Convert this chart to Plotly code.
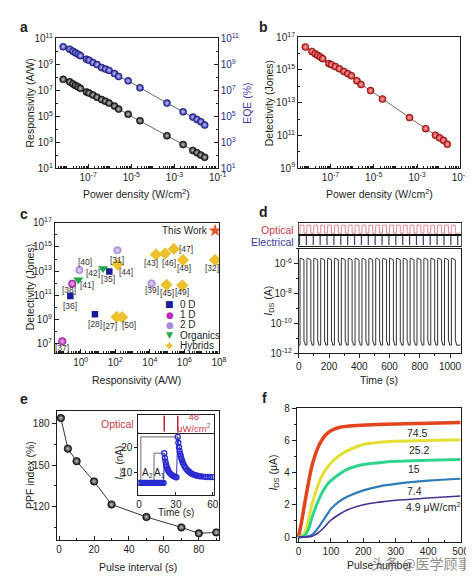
import math
import plotly.graph_objects as go

W, H = 474, 577
FONT = "Liberation Sans, Arial, Helvetica, sans-serif"
INK = "#1e1e1e"
TICK_SIZE = 10
TITLE_SIZE = 10.5

# ======================= DATA =======================
# panels a & b (same power densities)
power_density = [6.9e-9, 1.38e-8, 1.95e-8, 2.57e-8, 3.39e-8, 4.37e-8, 8.3e-8, 1.10e-7,
                 1.66e-7, 2.57e-7, 4.17e-7, 6.3e-7, 9.3e-7, 1.66e-6, 2.57e-6, 7.1e-6,
                 2.51e-5, 4.47e-4, 2.51e-3, 7.1e-3, 1.1e-2, 1.66e-2, 2.51e-2]
responsivity = [7.2e7, 4.6e7, 3.2e7, 2.4e7, 1.9e7, 1.45e7, 7.6e6, 6.3e6, 4.5e6, 3.0e6,
                2.0e6, 1.5e6, 1.07e6, 6.3e5, 3.7e5, 1.5e5, 4.7e4, 3.3e3, 690, 245, 162, 107, 72]
eqe_percent = [2.3e10, 1.5e10, 1.05e10, 7.9e9, 6.2e9, 4.7e9, 2.5e9, 2.1e9, 1.4e9, 9.8e8,
               5.8e8, 4.4e8, 3.5e8, 2.0e8, 1.2e8, 5.5e7, 1.6e7, 1.07e6, 2.3e5, 8.9e4,
               5.9e4, 3.9e4, 2.2e4]
detectivity = [2.5e16, 1.35e16, 9.8e15, 7.8e15, 6.2e15, 4.9e15, 2.45e15, 2.1e15, 1.6e15,
               1.17e15, 8.1e14, 5.9e14, 4.4e14, 2.2e14, 1.3e14, 5.5e13, 1.66e13, 1.23e12,
               2.6e11, 1.02e11, 7.1e10, 5.0e10, 2.9e10]

# panel c (responsivity A/W, detectivity Jones)
c_this_R, c_this_D = 6.0e7, 2.3e16
c_0d_refs = ["[36]", "[28]", "[35]"]
c_0d_R = [0.25, 6.6, 45.0]
c_0d_D = [8.3e10, 2.6e9, 9.3e12]
c_1d_refs = ["[38]", "[37]"]
c_1d_R = [0.32, 0.085]
c_1d_D = [8.9e11, 1.45e7]
c_2d_refs = ["[40]", "[31]", "[39]"]
c_2d_R = [0.83, 132.0, 1.26e4]
c_2d_D = [1.2e13, 5.4e14, 9.3e11]
c_org_refs = ["[41]", "[42]"]
c_org_R = [0.72, 19.5]
c_org_D = [1.86e12, 1.66e13]
c_hyb_refs = ["[44]", "[27]", "[50]", "[43]", "[46]", "[47]", "[48]", "[32]", "[45]", "[49]"]
c_hyb_R = [138.0, 120.0, 251.0, 2.24e4, 7.6e4, 2.45e5, 8.3e5, 6.0e7, 9.3e4, 7.6e5]
c_hyb_D = [3.5e13, 1.55e9, 1.45e9, 2.4e14, 2.9e14, 6.9e14, 8.3e13, 8.3e13, 7.2e11, 6.5e11]

# panel d (time in s, current in A)
d_light_on = [8, 53.5, 99, 144.5, 190, 235.5, 281, 326.5, 372, 417.5, 463, 508.5, 554,
              599.5, 645, 690.5, 736, 781.5, 827, 872.5, 918, 963.5, 1009]
d_light_off = [34, 79.5, 125, 170.5, 216, 261.5, 307, 352.5, 398, 443.5, 489, 534.5, 580,
               625.5, 671, 716.5, 762, 807.5, 853, 898.5, 944, 989.5, 1035]
d_electrical = [4.5, 50, 95.5, 141, 186.5, 232, 277.5, 323, 368.5, 414, 459.5, 505, 550.5,
                596, 641.5, 687, 732.5, 778, 823.5, 869, 914.5, 960, 1005.5, 1051]
d_high_start, d_high_end = 2.4e-6, 1.9e-6
d_low_after, d_low = 6e-12, 3.5e-12
d_t_end = 1070

# panel e
e_interval = [1, 5, 10, 20, 30, 50, 70, 80, 90]
e_ppf = [183.8, 161.8, 152.8, 138.2, 121.6, 112.6, 105.1, 100.8, 101.5]
# panel e inset
ins_t = [0, 1, 2, 3, 4, 5, 6, 7, 8, 9, 10, 11, 12, 13, 14, 15, 16, 17, 18, 19, 20,
         20.5, 21, 21.5, 22, 22.5, 23, 23.5, 24, 25, 26, 27, 28, 29, 30, 30.5,
         31.5, 32, 32.5, 33, 33.5, 34, 34.5, 35, 35.5, 36, 37, 38, 39, 40, 41, 42, 43,
         44, 45, 46, 47, 48, 49, 50, 52, 54, 56, 58, 60]
ins_I = [6.0, 6.0, 6.0, 6.0, 6.0, 6.0, 6.0, 6.0, 6.0, 6.0, 6.0, 6.0, 6.0, 6.0, 6.0, 6.0,
         6.0, 6.0, 6.0, 6.0, 6.0,
         17.7, 15.8, 14.4, 13.3, 12.4, 11.7, 11.1, 10.6, 9.9, 9.4, 9.0, 8.7, 8.5, 8.3, 8.2,
         24.1, 21.8, 20.0, 18.6, 17.4, 16.4, 15.5, 14.8, 14.1, 13.5, 12.6, 11.8, 11.2,
         10.7, 10.3, 9.9, 9.6, 9.4, 9.2, 9.0, 8.9, 8.8, 8.7, 8.6, 8.5, 8.4, 8.35, 8.3, 8.3]
ins_pulses = [20.5, 31.5]
ins_baseline = 6.0
ins_A2_t, ins_A1_t = 1.5, 12.2

# panel f
f_pulse = [0, 10, 20, 30, 40, 50, 60, 70, 80, 90, 100, 125, 150, 200, 250, 300, 400, 500]
f_intensity = ["74.5", "25.2", "15", "7.4", "4.9 μW/cm<sup>2</sup>"]
f_I_745 = [0, 1.0, 2.2, 3.3, 4.3, 5.0, 5.55, 5.95, 6.25, 6.45, 6.6, 6.8, 6.88, 6.95, 6.99, 7.02, 7.07, 7.12]
f_I_252 = [0, 0.05, 0.3, 1.0, 1.9, 2.6, 3.2, 3.7, 4.05, 4.35, 4.6, 5.05, 5.35, 5.75, 5.88, 5.95, 6.0, 6.05]
f_I_15 = [0, 0.02, 0.1, 0.45, 1.1, 1.7, 2.2, 2.65, 3.0, 3.3, 3.5, 3.9, 4.2, 4.5, 4.62, 4.7, 4.77, 4.82]
f_I_74 = [0, 0, 0.01, 0.04, 0.12, 0.3, 0.55, 0.85, 1.15, 1.45, 1.75, 2.2, 2.5, 2.9, 3.15, 3.3, 3.5, 3.62]
f_I_49 = [0, 0, 0, 0.01, 0.04, 0.12, 0.25, 0.42, 0.62, 0.85, 1.05, 1.4, 1.68, 2.0, 2.17, 2.28, 2.42, 2.55]

# ======================= HELPERS =======================
def xdom(x0, x1):
    return [x0 / W, x1 / W]


def ydom(top, bottom):
    return [1 - bottom / H, 1 - top / H]


def axis(**kw):
    d = dict(showline=True, linecolor=INK, linewidth=1, mirror=True, ticks="inside",
             ticklen=4, tickwidth=1, tickcolor=INK, showgrid=False, zeroline=False,
             tickfont=dict(size=TICK_SIZE, color=INK, family=FONT))
    d.update(kw)
    return d


def log_ticks(exps):
    return dict(tickmode="array", tickvals=[10.0 ** e for e in exps],
                ticktext=["10<sup>%d</sup>" % e for e in exps])


def decade_minor(lo, hi, sub=False, ticks="inside"):
    vals = []
    for e in range(lo, hi + 1):
        if sub:
            vals += [m * 10.0 ** e for m in range(1, 10)]
        else:
            vals.append(10.0 ** e)
    return dict(tickmode="array", tickvals=vals, ticklen=2, ticks=ticks, tickcolor=INK)


anns = []


def txt(text, x, y, size=TITLE_SIZE, color=INK, angle=0, xanchor="center",
        yanchor="middle", family=FONT, opacity=1.0, align="center"):
    anns.append(dict(text=text, x=x / W, y=1 - y / H, xref="paper", yref="paper",
                     showarrow=False, textangle=angle, xanchor=xanchor, yanchor=yanchor,
                     font=dict(size=size, color=color, family=family), opacity=opacity,
                     align=align))


def ball(color, light, size=7, edge="#000000"):
    return dict(size=size, color=color, gradient=dict(type="radial", color=light),
                line=dict(width=0.6, color=edge))


fig = go.Figure()

# ======================= PANEL A =======================
fig.add_trace(go.Scatter(x=power_density, y=responsivity, mode="lines+markers",
                         line=dict(color="#666666", width=1),
                         marker=ball("#111111", "#c8c8c8"), xaxis="x", yaxis="y",
                         showlegend=False))
fig.add_trace(go.Scatter(x=power_density, y=eqe_percent, mode="lines+markers",
                         line=dict(color="#666666", width=1),
                         marker=ball("#1f1fa8", "#c8c8f4", edge="#10105a"), xaxis="x", yaxis="y2",
                         showlegend=False))

# ======================= PANEL B =======================
fig.add_trace(go.Scatter(x=power_density, y=detectivity, mode="lines+markers",
                         line=dict(color="#8a5a5a", width=1),
                         marker=ball("#c81818", "#f8b0b0", edge="#6a0000"), xaxis="x2", yaxis="y3",
                         showlegend=False))

# ======================= PANEL C =======================
c_groups = [
    ("0 D", c_0d_refs, c_0d_R, c_0d_D, dict(symbol="square", size=6.5, color="#1a1a9a",
                                           line=dict(width=0))),
    ("1 D", c_1d_refs, c_1d_R, c_1d_D, ball("#b82cc0", "#f0b0f0", size=7.5, edge="#7a1080")),
    ("2 D", c_2d_refs, c_2d_R, c_2d_D, ball("#a88ad8", "#e4d8f6", size=7.5, edge="#a88ad8")),
    ("Organics", c_org_refs, c_org_R, c_org_D, dict(symbol="triangle-down", size=9,
                                                   color="#22a848", line=dict(width=0))),
    ("Hybrids", c_hyb_refs, c_hyb_R, c_hyb_D, dict(symbol="diamond", size=9.5,
                                                  color="#ebc22e", line=dict(width=0))),
]
for name, refs, R, D, mk in c_groups:
    fig.add_trace(go.Scatter(x=R, y=D, mode="markers", marker=mk, name=name,
                             xaxis="x3", yaxis="y4", showlegend=False))
fig.add_trace(go.Scatter(x=[c_this_R], y=[c_this_D], mode="markers",
                         marker=dict(symbol="star", size=10, color="#e8552a"),
                         xaxis="x3", yaxis="y4", showlegend=False))

# reference-label offsets (px right, px down)
c_label_offsets = {"[36]": (0, 10), "[28]": (0, 10), "[35]": (-1, 8), "[38]": (-3, 6),
                   "[37]": (0, 7), "[40]": (6, -8), "[31]": (0, 10), "[39]": (0, 7),
                   "[41]": (9, 5), "[42]": (-10, 5), "[44]": (8, 7), "[27]": (-7, 9),
                   "[50]": (7, 8), "[43]": (-5, 9), "[46]": (4, 10), "[47]": (12, 0),
                   "[48]": (1, 8), "[32]": (-3, 8), "[45]": (0, 8), "[49]": (0, 7)}
for name, refs, R, D, mk in c_groups:
    for ref, r, d in zip(refs, R, D):
        dx, dy = c_label_offsets[ref]
        anns.append(dict(text=ref, x=math.log10(r), y=math.log10(d), xref="x3", yref="y4",
                         showarrow=False, xshift=dx, yshift=-dy,
                         font=dict(size=8.5, color="#333333", family=FONT)))
anns.append(dict(text="This Work", x=math.log10(c_this_R), y=math.log10(c_this_D),
                 xref="x3", yref="y4", showarrow=False, xanchor="right", xshift=-5,
                 font=dict(size=10, color=INK, family=FONT)))

# legend for panel c (text glyphs)
c_leg_glyph = [("■", "#1a1a9a"), ("●", "#b82cc0"), ("●", "#a88ad8"), ("▼", "#22a848"),
               ("◆", "#ebc22e")]
for i, ((g, col), (name, *_)) in enumerate(zip(c_leg_glyph, c_groups)):
    yy = 296 + i * 10.5
    txt(g, 163, yy, size=9, color=col, family="DejaVu Sans")
    txt(name, 171, yy, size=10, xanchor="left")

# ======================= PANEL D =======================
d_t, d_I = [0], [d_low]
for on, off in zip(d_light_on, d_light_off):
    d_t += [on, on, on + 2, off - 1, off, off, off + 4, off + 8]
    d_I += [d_low, d_high_start * 0.8, d_high_start, d_high_end, d_high_end * 0.8,
            d_low_after, d_low_after, d_low]
d_t.append(d_t_end)
d_I.append(d_low)
fig.add_trace(go.Scatter(x=d_t, y=d_I, mode="lines", line=dict(color="#333333", width=1),
                         xaxis="x4", yaxis="y5", showlegend=False))
opt_x, opt_y = [0], [0.15]
for on, off in zip(d_light_on, d_light_off):
    opt_x += [on, on, off, off]
    opt_y += [0.15, 0.85, 0.85, 0.15]
opt_x.append(d_t_end)
opt_y.append(0.15)
fig.add_trace(go.Scatter(x=opt_x, y=opt_y, mode="lines", line=dict(color="#e08894", width=1),
                         xaxis="x5", yaxis="y6", showlegend=False))
el_x, el_y = [], []
for te in d_electrical:
    el_x += [te, te, None]
    el_y += [0.12, 0.9, None]
fig.add_trace(go.Scatter(x=el_x, y=el_y, mode="lines", line=dict(color="#3a3a6e", width=1.2),
                         xaxis="x6", yaxis="y7", showlegend=False))

# ======================= PANEL E =======================
fig.add_trace(go.Scatter(x=e_interval, y=e_ppf, mode="lines+markers",
                         line=dict(color="#333333", width=1),
                         marker=ball("#111111", "#c8c8c8", size=7.5), xaxis="x7", yaxis="y8",
                         showlegend=False))
# inset brackets
i_pk1 = ins_I[ins_t.index(ins_pulses[0])]
i_pk2 = ins_I[ins_t.index(ins_pulses[1])]
fig.add_trace(go.Scatter(x=[ins_A2_t, ins_A2_t, ins_pulses[1]], y=[ins_baseline, i_pk2, i_pk2],
                         mode="lines", line=dict(color="#444444", width=0.8),
                         xaxis="x8", yaxis="y9", showlegend=False))
fig.add_trace(go.Scatter(x=[ins_A1_t, ins_A1_t, ins_pulses[0]], y=[ins_baseline, i_pk1, i_pk1],
                         mode="lines", line=dict(color="#444444", width=0.8),
                         xaxis="x8", yaxis="y9", showlegend=False))
fig.add_trace(go.Scatter(x=ins_t, y=ins_I, mode="lines+markers",
                         line=dict(color="#2a2ad0", width=1),
                         marker=dict(symbol="circle-open", size=5, color="#2a2ad0",
                                     line=dict(width=1.3)),
                         xaxis="x8", yaxis="y9", showlegend=False))
p_x, p_y = [], []
for tp in ins_pulses:
    p_x += [tp, tp, None]
    p_y += [0.08, 0.95, None]
fig.add_trace(go.Scatter(x=p_x, y=p_y, mode="lines", line=dict(color="#b8283a", width=1.5),
                         xaxis="x9", yaxis="y10", showlegend=False))
anns.append(dict(text="A<sub>2</sub>", x=(ins_A2_t + ins_A1_t) / 2, y=10.0, xref="x8",
                 yref="y9", showarrow=False, font=dict(size=10, color=INK, family=FONT)))
anns.append(dict(text="A<sub>1</sub>", x=(ins_A1_t + ins_pulses[0]) / 2, y=10.0, xref="x8",
                 yref="y9", showarrow=False, font=dict(size=10, color=INK, family=FONT)))

# ======================= PANEL F =======================
f_series = [f_I_745, f_I_252, f_I_15, f_I_74, f_I_49]
f_colors = ["#e2441c", "#e4e033", "#2fd48e", "#2f7bb8", "#4a2f92"]
f_widths = [3.5, 3.0, 3.0, 2.2, 1.6]
for ys, col, wd in zip(f_series, f_colors, f_widths):
    fig.add_trace(go.Scatter(x=f_pulse, y=ys, mode="lines", line=dict(color=col, width=wd,
                                                                       shape="spline"),
                             xaxis="x10", yaxis="y11", showlegend=False))
f_label_pos = [(367, 6.46), (372, 5.38), (357, 4.2), (357, 2.88), (415, 1.87)]
for lab, (lx, ly) in zip(f_intensity, f_label_pos):
    anns.append(dict(text=lab, x=lx, y=ly, xref="x10", yref="y11", showarrow=False,
                     font=dict(size=10.5, color=INK, family=FONT)))

# ======================= TEXT =======================
for letter, x, y in [("a", 13, 12), ("b", 259, 12), ("c", 13, 204), ("d", 259, 202),
                     ("e", 13, 393), ("f", 260, 392)]:
    txt("<b>%s</b>" % letter, x, y, size=14)

txt("Responsivity (A/W)", 19, 90, angle=-90)
txt("EQE (%)", 242, 90, angle=-90, color="#3a3aa8")
txt("Power density (W/cm<sup>2</sup>)", 129, 183)
txt("Detectivity (Jones)", 265, 90, angle=-90)
txt("Power density (W/cm<sup>2</sup>)", 378, 183)
txt("Detectivity (Jones)", 19, 279, angle=-90)
txt("Responsivity (A/W)", 129, 373)
txt("<i>I</i><sub>DS</sub> (A)", 265, 292, angle=-90)
txt("Time (s)", 378, 373)
txt("Optical", 292, 219.5, color="#c83a48", xanchor="right")
txt("Electrical", 292, 232, color="#3a3a9a", xanchor="right")
txt("PPF index (%)", 20, 470, angle=-90)
txt("Pulse interval (s)", 130, 565)
txt("Optical", 128.5, 418, color="#c83a48", xanchor="right")
txt("48<br>μW/cm<sup>2</sup>", 188, 417, size=9.5, color="#c83a48")
txt("<i>I</i><sub>DS</sub> (nA)", 111, 458, angle=-90, size=10)
txt("Time (s)", 169, 509, size=10)
txt("<i>I</i><sub>DS</sub> (μA)", 270, 468, angle=-90)
txt("Pulse number", 378, 563)
txt("头条 @医学顾事", 421, 561, size=14, color="#6a6a6a", family="Noto Sans CJK SC",
    opacity=0.75)

# ======================= LAYOUT =======================
layout = dict(
    width=W, height=H, margin=dict(l=0, r=0, t=0, b=0), paper_bgcolor="white",
    plot_bgcolor="white", font=dict(family=FONT, color=INK, size=TICK_SIZE),
    showlegend=False, annotations=anns,
    # panel a
    xaxis=axis(type="log", range=[-8.5, -1], domain=xdom(46, 212), anchor="y",
               minor=decade_minor(-9, -1, sub=True), **log_ticks([-7, -5, -3, -1])),
    yaxis=axis(type="log", range=[1, 11], domain=ydom(24, 157), anchor="x", mirror=False,
               minor=decade_minor(1, 11), **log_ticks([1, 3, 5, 7, 9, 11])),
    yaxis2=axis(type="log", range=[1, 11], overlaying="y", side="right", anchor="x",
                mirror=False, minor=decade_minor(1, 11),
                tickfont=dict(size=TICK_SIZE, color="#2a2a8a", family=FONT),
                **log_ticks([1, 3, 5, 7, 9, 11])),
    # panel b
    xaxis2=axis(type="log", range=[-8.5, -1], domain=xdom(294.5, 461), anchor="y3",
                minor=decade_minor(-9, -1, sub=True), **log_ticks([-7, -5, -3, -1])),
    yaxis3=axis(type="log", range=[9, 17], domain=ydom(22.7, 156.7), anchor="x2",
                minor=decade_minor(9, 17), **log_ticks([9, 11, 13, 15, 17])),
    # panel c
    xaxis3=axis(type="log", range=[-1.5, 8], domain=xdom(45, 213.3), anchor="y4",
                minor=decade_minor(-2, 8, sub=True), **log_ticks([0, 2, 4, 6, 8])),
    yaxis4=axis(type="log", range=[6.2, 17], domain=ydom(212.7, 345.7), anchor="x3",
                minor=decade_minor(6, 17), **log_ticks([7, 9, 11, 13, 15, 17])),
    # panel d main
    xaxis4=axis(range=[0, d_t_end], domain=xdom(295.3, 461.3), anchor="y5", ticks="outside",
                tickvals=[0, 200, 400, 600, 800, 1000], tickmode="array",
                minor=dict(tickvals=[100, 300, 500, 700, 900], ticklen=2, ticks="outside",
                           tickcolor=INK)),
    yaxis5=axis(type="log", range=[-12, -5], domain=ydom(239.3, 346), anchor="x4",
                ticks="outside", minor=decade_minor(-12, -5, ticks="outside"),
                **log_ticks([-12, -10, -8, -6])),
    xaxis5=axis(range=[0, d_t_end], domain=xdom(295.3, 461.3), anchor="y6",
                showticklabels=False, ticks=""),
    yaxis6=axis(range=[0, 1], domain=ydom(213.3, 225), anchor="x5", showticklabels=False,
                ticks="", linecolor="#555555"),
    xaxis6=axis(range=[0, d_t_end], domain=xdom(295.3, 461.3), anchor="y7",
                showticklabels=False, ticks=""),
    yaxis7=axis(range=[0, 1], domain=ydom(225, 236.7), anchor="x6", showticklabels=False,
                ticks="", linecolor="#555555"),
    # panel e
    xaxis7=axis(range=[-1.5, 91.5], domain=xdom(46.7, 213.3), anchor="y8", ticks="inside",
                dtick=20, tick0=0, minor=dict(dtick=10, tick0=0, ticklen=2, ticks="inside",
                                              tickcolor=INK)),
    yaxis8=axis(range=[96.3, 189], domain=ydom(405, 536.7), anchor="x7", ticks="outside",
                tickvals=[120, 150, 180], tickmode="array",
                minor=dict(tickvals=[105, 135, 165], ticklen=2, ticks="outside",
                           tickcolor=INK)),
    xaxis8=axis(range=[-0.5, 61], domain=xdom(130.7, 208.3), anchor="y9", ticks="inside",
                tickvals=[0, 30, 60], tickmode="array", ticklen=3),
    yaxis9=axis(range=[1.3, 25.6], domain=ydom(427.7, 491), anchor="x8", ticks="outside",
                tickvals=[10, 20], tickmode="array", ticklen=3),
    xaxis9=axis(range=[-0.5, 61], domain=xdom(130.7, 208.3), anchor="y10",
                showticklabels=False, ticks=""),
    yaxis10=axis(range=[0, 1], domain=ydom(409, 427.7), anchor="x9", showticklabels=False,
                 ticks=""),
    # panel f
    xaxis10=axis(range=[-5, 500], domain=xdom(293.3, 461.3), anchor="y11", ticks="inside",
                 dtick=100, tick0=0, minor=dict(dtick=50, tick0=0, ticklen=2,
                                                ticks="inside", tickcolor=INK)),
    yaxis11=axis(range=[-0.3, 8], domain=ydom(402.3, 539), anchor="x10", ticks="outside",
                 dtick=2, tick0=0, minor=dict(dtick=1, tick0=0, ticklen=2, ticks="outside",
                                              tickcolor=INK)),
    shapes=[dict(type="line", xref="paper", yref="paper", x0=295.3 / W, x1=461.3 / W,
                 y0=1 - 225 / H, y1=1 - 225 / H, line=dict(color="#111111", width=2))],
)
fig.update_layout(**layout)
fig.write_html("out.html")
